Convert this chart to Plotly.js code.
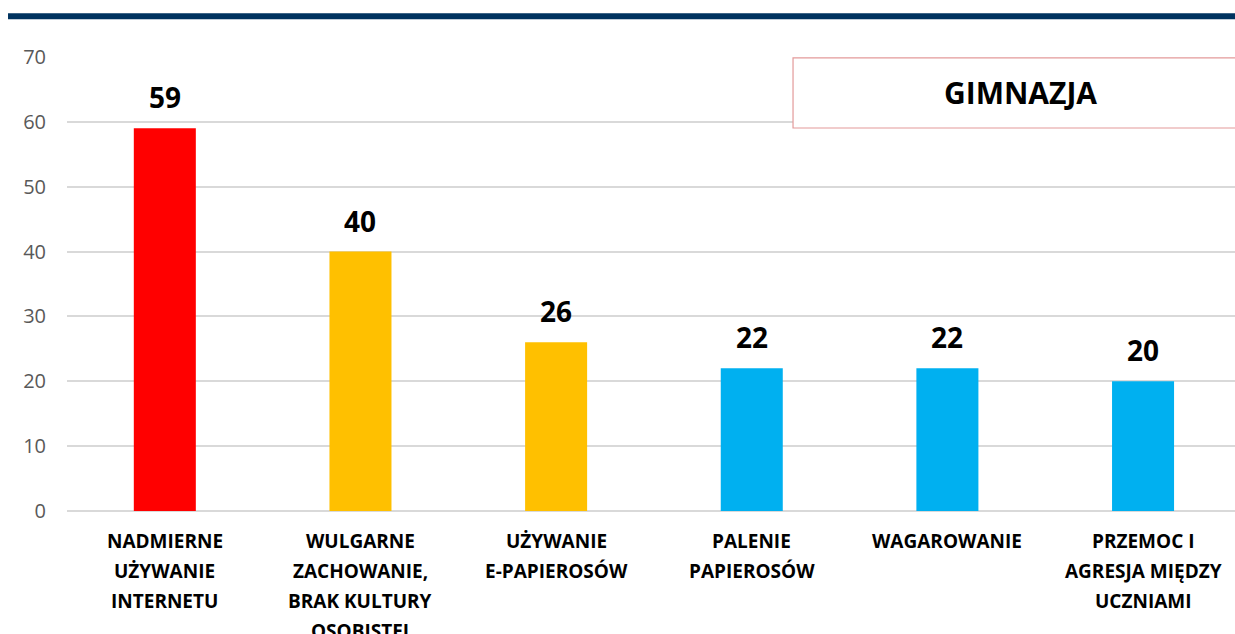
<!DOCTYPE html>
<html>
<head>
<meta charset="utf-8">
<script src="https://cdn.plot.ly/plotly-3.0.1.min.js"></script>
<style>
  html, body { margin: 0; padding: 0; background: #fff; }
  #wykres { width: 1235px; height: 634px; }
</style>
</head>
<body>
<div id="wykres"></div>
<script>
// kategorie (kazda linia osobno)
const kategorie = [
    ['NADMIERNE', 'UŻYWANIE', 'INTERNETU'],
    ['WULGARNE', 'ZACHOWANIE,', 'BRAK KULTURY', 'OSOBISTEJ'],
    ['UŻYWANIE', 'E-PAPIEROSÓW'],
    ['PALENIE', 'PAPIEROSÓW'],
    ['WAGAROWANIE'],
    ['PRZEMOC I', 'AGRESJA MIĘDZY', 'UCZNIAMI']
];
const wartosci = [59, 40, 26, 22, 22, 20];
const kolory = ['#ff0000', '#ffc000', '#ffc000', '#00b0f0', '#00b0f0', '#00b0f0'];
const yTicks = [0, 10, 20, 30, 40, 50, 60, 70];
const tytul = 'GIMNAZJA';

const xIdx = kategorie.map((k, i) => i);

const trace = {
    x: xIdx,
    y: wartosci,
    type: 'bar',
    width: 0.317,
    marker: { color: kolory },
    hoverinfo: 'skip'
};

// etykiety wartosci nad slupkami
const annotations = wartosci.map((v, i) => ({
    x: i, y: v, xref: 'x', yref: 'y',
    text: '<b>' + v + '</b>',
    showarrow: false,
    yanchor: 'bottom',
    yshift: 10,
    font: { family: 'Open Sans', size: 28, color: '#000' }
}));

// etykiety kategorii, linia po linii
kategorie.forEach((linie, i) => {
    linie.forEach((tekst, j) => {
        annotations.push({
            x: i, y: 0, xref: 'x', yref: 'y',
            text: '<b>' + tekst + '</b>',
            showarrow: false,
            yanchor: 'middle',
            yshift: -30 - 30 * j,
            font: { family: 'Open Sans', size: 19, color: '#000' }
        });
    });
});

annotations.push({
    x: 0.816, y: 0.921, xref: 'paper', yref: 'paper',
    xanchor: 'center', yanchor: 'middle',
    text: '<b>' + tytul + '</b>',
    showarrow: false,
    font: { family: 'Open Sans', size: 30, color: '#000' }
});

const layout = {
    width: 1235,
    height: 634,
    margin: { l: 67, r: 0, t: 57, b: 123 },
    paper_bgcolor: '#fff',
    plot_bgcolor: '#fff',
    showlegend: false,
    xaxis: {
        range: [-0.5, 5.47],
        showticklabels: false,
        showgrid: false,
        zeroline: false,
        showline: false,
        fixedrange: true
    },
    yaxis: {
        range: [0, 70],
        tickvals: yTicks,
        showgrid: true,
        gridcolor: '#d9d9d9',
        gridwidth: 2,
        zeroline: true,
        zerolinecolor: '#d9d9d9',
        zerolinewidth: 2,
        ticks: '',
        ticklabelstandoff: 20,
        tickfont: { family: 'Open Sans', size: 20, color: '#595959' },
        fixedrange: true
    },
    shapes: [
        {
            type: 'line', xref: 'paper', yref: 'paper',
            x0: -0.0505, x1: 1, y0: 1.090, y1: 1.090,
            line: { color: '#00335f', width: 6 }
        },
        {
            type: 'rect', xref: 'paper', yref: 'paper',
            x0: 0.6216, x1: 1.01, y0: 0.8436, y1: 0.998,
            fillcolor: '#ffffff',
            line: { color: '#e39a9a', width: 1.2 }
        }
    ],
    annotations: annotations
};

var config = { displayModeBar: false, responsive: false };

Plotly.newPlot('wykres', [trace], layout, config);
</script>
</body>
</html>
